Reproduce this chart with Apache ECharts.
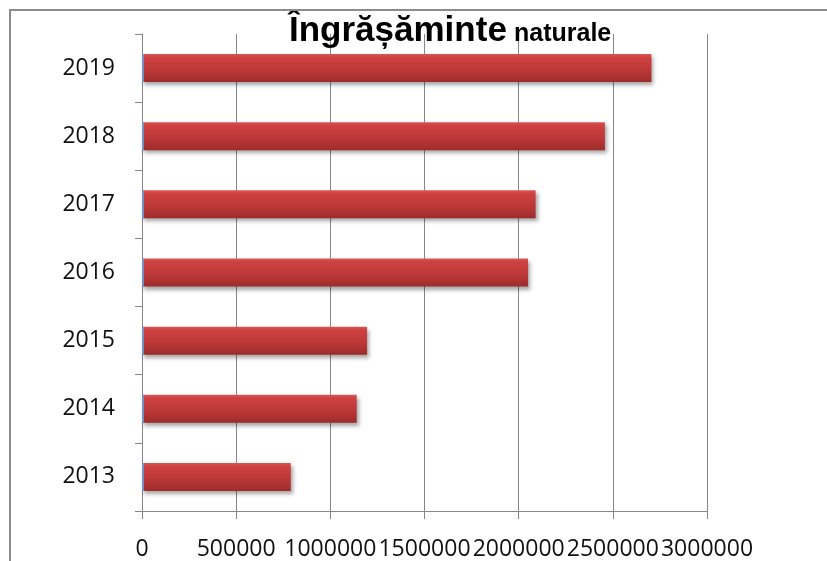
<!DOCTYPE html>
<html>
<head>
<meta charset="utf-8">
<script src="https://cdn.jsdelivr.net/npm/echarts@6/dist/echarts.min.js"></script>
<style>
html,body{margin:0;padding:0;background:#fff;}
#c{width:827px;height:561px;}
</style>
</head>
<body>
<div id="c"></div>
<script>
const years = ['2013','2014','2015','2016','2017','2018','2019'];
const naturale = [790000, 1140000, 1195000, 2050000, 2090000, 2458000, 2705000];
const sliver = [10000, 10000, 10000, 10000, 10000, 10000, 10000];
const xTicks = { min: 0, max: 3000000, interval: 500000 };
const titleMain = 'Îngrășăminte';
const titleSub = 'naturale';

const chart = echarts.init(document.getElementById('c'), null, {renderer:'canvas'});
const gray = '#878787';
chart.setOption({
  animation: false,
  backgroundColor: '#ffffff',
  title: [{
    text: titleMain,
    left: 289,
    top: 14,
    padding: 0,
    z: 10,
    textStyle: {fontFamily: 'Liberation Sans', fontWeight: 'bold', fontSize: 35, color: '#000'}
  }, {
    text: titleSub,
    left: 514,
    top: 22,
    padding: 0,
    z: 10,
    textStyle: {fontFamily: 'Liberation Sans', fontWeight: 'bold', fontSize: 25, color: '#000'}
  }],
  graphic: [{
    type: 'rect',
    shape: {x: 10, y: 10, width: 900, height: 700},
    style: {fill: 'none', stroke: '#8c8c8c', lineWidth: 2},
    silent: true, z: 100
  }],
  grid: {left: 142, right: 120, top: 34, bottom: 49},
  xAxis: {
    type: 'value',
    min: xTicks.min, max: xTicks.max, interval: xTicks.interval,
    axisLine: {show: true, lineStyle: {color: gray, width: 1}},
    axisTick: {show: true, length: 8, lineStyle: {color: gray}},
    splitLine: {show: true, lineStyle: {color: gray, width: 1}},
    axisLabel: {fontFamily: 'Open Sans', fontSize: 23, color: '#111', margin: 27,
      hideOverlap: false, showMaxLabel: true, showMinLabel: true,
      formatter: function (v) { return String(v); }}
  },
  yAxis: {
    type: 'category',
    data: years,
    axisLine: {show: true, lineStyle: {color: gray, width: 1}},
    axisTick: {show: true, length: 7, lineStyle: {color: gray}},
    axisLabel: {fontFamily: 'Open Sans', fontSize: 23, color: '#111', margin: 27}
  },
  series: [{
    type: 'bar',
    name: titleSub,
    data: naturale,
    barWidth: 28,
    itemStyle: {
      color: new echarts.graphic.LinearGradient(0, 0, 0, 1, [
        {offset: 0, color: '#d85656'},
        {offset: 0.12, color: '#cf4141'},
        {offset: 0.6, color: '#bb3737'},
        {offset: 1, color: '#9c2c2c'}
      ]),
      shadowColor: 'rgba(0,0,0,0.35)',
      shadowBlur: 4,
      shadowOffsetX: 2,
      shadowOffsetY: 3
    }
  }, {
    type: 'bar',
    name: 'b',
    data: sliver,
    barWidth: 28,
    barGap: '-100%',
    itemStyle: {color: '#6d98d4'}
  }]
});
</script>
</body>
</html>
